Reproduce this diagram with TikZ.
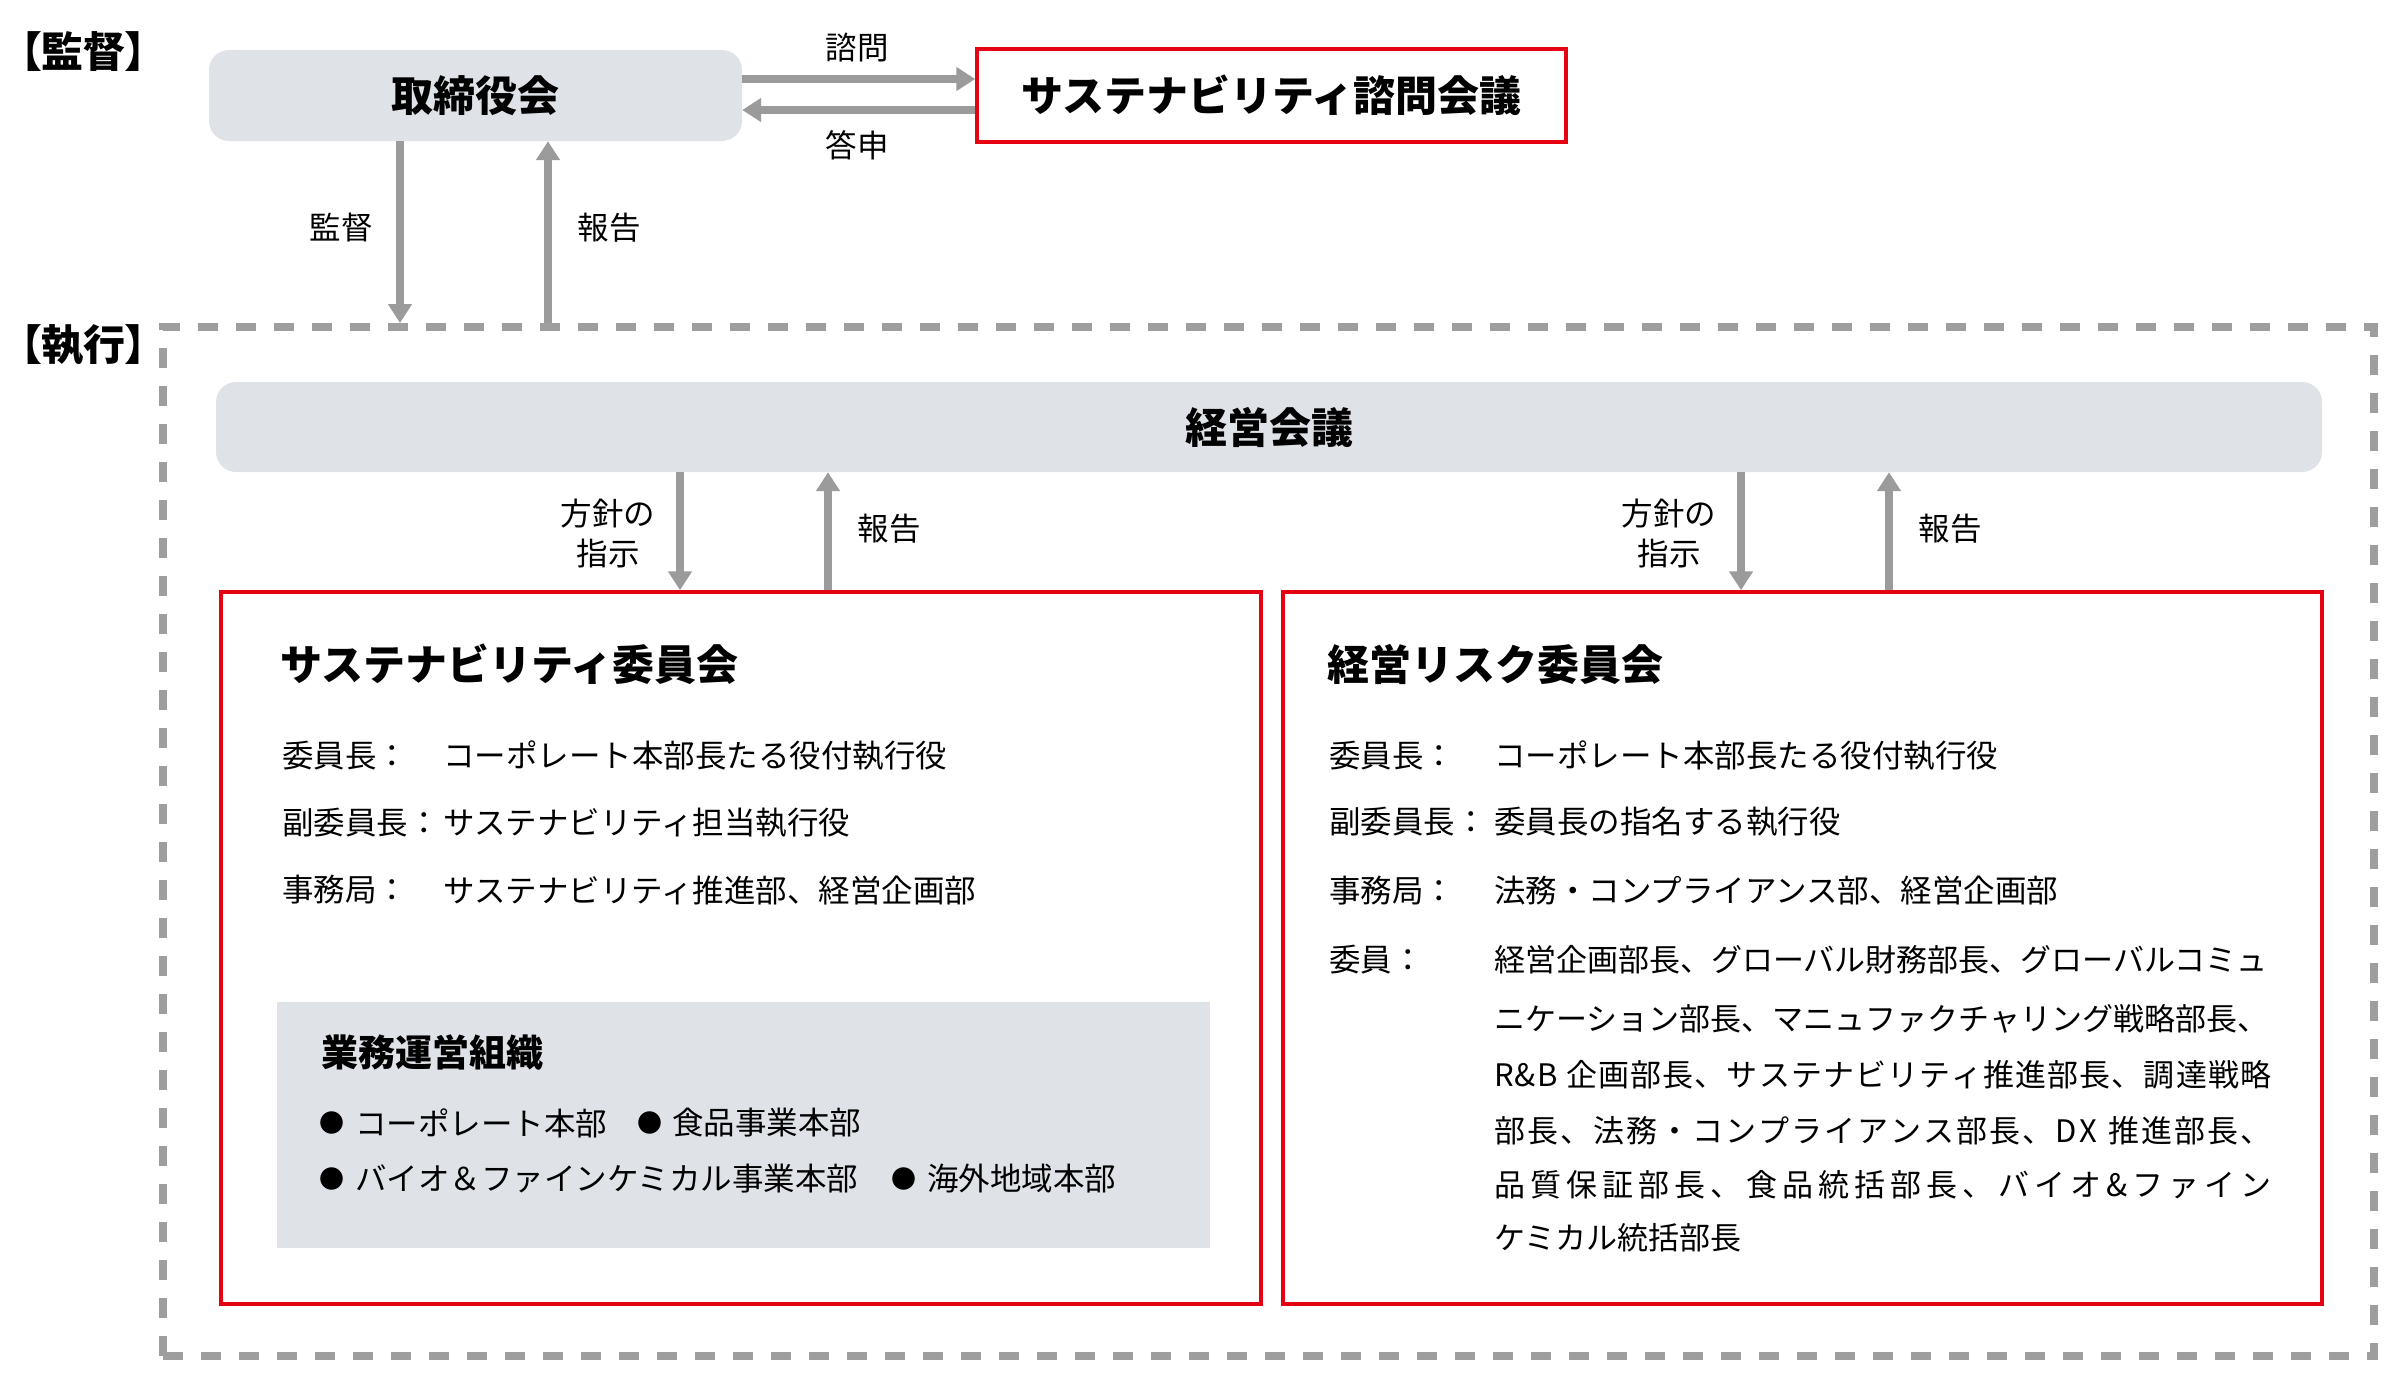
\documentclass[tikz,border=0pt]{standalone}
\usepackage{fontspec}
\setmainfont{Noto Sans CJK JP}
\newfontfamily\brkfont{Noto Sans CJK JP}[RawFeature=+palt]
\usetikzlibrary{arrows.meta}
\definecolor{boxgray}{HTML}{DFE3E7}
\definecolor{arrgray}{HTML}{9B9B9B}
\definecolor{dashgray}{HTML}{9E9E9E}
\definecolor{jred}{HTML}{E50012}
% spread the characters of a line evenly over a fixed width
\def\spreadchars#1{\spreadA#1\relax}
\def\spreadA#1{\ifx#1\relax\else #1\expandafter\spreadB\fi}
\def\spreadB#1{\ifx#1\relax\else\hfill #1\expandafter\spreadB\fi}
\newcommand\jline[1]{\makebox[777pt][l]{\spreadchars{#1}}}
\begin{document}
\begin{tikzpicture}[x=1pt,y=-1pt,
  ttl/.style={inner sep=0pt, font=\fontsize{42}{50}\selectfont\bfseries},
  subttl/.style={inner sep=0pt, font=\fontsize{37}{44}\selectfont\bfseries},
  brk/.style={inner sep=0pt, anchor=west, font=\brkfont\fontsize{42}{50}\selectfont\bfseries},
  lbl/.style={inner sep=0pt, font=\fontsize{31.5}{40}\selectfont},
  row/.style={lbl, anchor=west},
  mem/.style={inner sep=0pt, anchor=west, font=\fontsize{31}{40}\selectfont},
  bul/.style={inner sep=0pt, font=\fontsize{25}{28}\selectfont},
  gbox/.style={fill=boxgray, draw=none, rounded corners=20pt},
  rbox/.style={draw=jred, line width=3.5pt, fill=none},
  dbox/.style={draw=dashgray, line width=8pt, dash pattern=on 20pt off 18pt},
  arr/.style={draw=arrgray, line width=7.5pt, -{Triangle[length=19pt,width=23pt]}}
]
\useasboundingbox (0,0) rectangle (2400,1384);

% section labels
\node[brk] (lsup) at (20,52) {【監督】};
\node[brk] (lexe) at (20,345) {【執行】};

% boxes
\node[gbox, ttl, minimum width=533pt, minimum height=91pt] (tori) at (475.5,95.5) {取締役会};
\node[rbox, ttl, minimum width=589pt, minimum height=93pt] (adv) at (1271.5,95.5) {サステナビリティ諮問会議};
\node[dbox, minimum width=2211pt, minimum height=1029pt] (exec) at (1268.5,841.5) {};
\node[gbox, ttl, minimum width=2106pt, minimum height=90pt] (mgmt) at (1269,427) {経営会議};
\node[rbox, minimum width=1040pt, minimum height=712pt] (sus) at (741,948) {};
\node[rbox, minimum width=1039pt, minimum height=712pt] (risk) at (1802.5,948) {};
\node[fill=boxgray, draw=none, inner sep=0pt, minimum width=933pt, minimum height=246pt] (ops) at (743.5,1125) {};

% helper coordinates
\coordinate (c1) at (400,0);
\coordinate (c2) at (548,0);
\coordinate (r1) at (0,79);
\coordinate (r2) at (0,110);
\coordinate (d1) at (680,0);
\coordinate (u1) at (828,0);
\coordinate (d2) at (1741,0);
\coordinate (u2) at (1889,0);

% arrows
\draw[arr] (tori.east |- r1) -- (adv.west |- r1);
\draw[arr] (adv.west |- r2) -- (tori.east |- r2);
\draw[arr] (tori.south -| c1) -- (exec.north -| c1);
\draw[arr] (exec.north -| c2) -- (tori.south -| c2);
\draw[arr] (mgmt.south -| d1) -- (sus.north -| d1);
\draw[arr] (sus.north -| u1) -- (mgmt.south -| u1);
\draw[arr] (mgmt.south -| d2) -- (risk.north -| d2);
\draw[arr] (risk.north -| u2) -- (mgmt.south -| u2);

% arrow labels
\node[lbl] (l1) at (857,48) {諮問};
\node[lbl] (l2) at (857,145) {答申};
\node[lbl] (l3) at (341,228) {監督};
\node[lbl] (l4) at (609,228) {報告};
\node[lbl, align=center] (l5) at (608,533) {方針の\\指示};
\node[lbl] (l6) at (889,529) {報告};
\node[lbl, align=center] (l7) at (1669,533) {方針の\\指示};
\node[lbl] (l8) at (1950,529) {報告};

% sustainability committee
\node[ttl, anchor=west] (st) at (280,664) {サステナビリティ委員会};
\node[row] (s1a) at (282,756) {委員長：};
\node[row] (s1b) at (443,756) {コーポレート本部長たる役付執行役};
\node[row] (s2a) at (282,823) {副委員長：};
\node[row] (s2b) at (443,823) {サステナビリティ担当執行役};
\node[row] (s3a) at (282,890) {事務局：};
\node[row] (s3b) at (443,890) {サステナビリティ推進部、経営企画部};

% operating organisations
\node[subttl, anchor=west] (ot) at (321,1052) {業務運営組織};
\node[bul] (b1) at (332,1123) {●};
\node[row] (o1) at (355,1123) {コーポレート本部};
\node[bul] (b2) at (650,1123) {●};
\node[row] (o2) at (672,1123) {食品事業本部};
\node[bul] (b3) at (332,1179) {●};
\node[row] (o3) at (355,1179) {バイオ＆ファインケミカル事業本部};
\node[bul] (b4) at (904,1179) {●};
\node[row] (o4) at (927,1179) {海外地域本部};

% management risk committee
\node[ttl, anchor=west] (rt) at (1327,664) {経営リスク委員会};
\node[row] (r1a) at (1329,756) {委員長：};
\node[row] (r1b) at (1494,756) {コーポレート本部長たる役付執行役};
\node[row] (r2a) at (1329,822) {副委員長：};
\node[row] (r2b) at (1494,822) {委員長の指名する執行役};
\node[row] (r3a) at (1329,891) {事務局：};
\node[row] (r3b) at (1494,891) {法務・コンプライアンス部、経営企画部};
\node[row] (r4a) at (1329,960) {委員：};
\node[mem] (m1) at (1494,960) {経営企画部長、グローバル財務部長、グローバルコミュ};
\node[mem] (m2) at (1494,1019) {ニケーション部長、マニュファクチャリング戦略部長、};
\node[mem] (m3) at (1494,1075) {\jline{R\&B~企画部長、サステナビリティ推進部長、調達戦略}};
\node[mem] (m4) at (1494,1131) {\jline{部長、法務・コンプライアンス部長、DX~推進部長、}};
\node[mem] (m5) at (1494,1185) {\jline{品質保証部長、食品統括部長、バイオ\&ファイン}};
\node[mem] (m6) at (1494,1238) {ケミカル統括部長};
\end{tikzpicture}
\end{document}
